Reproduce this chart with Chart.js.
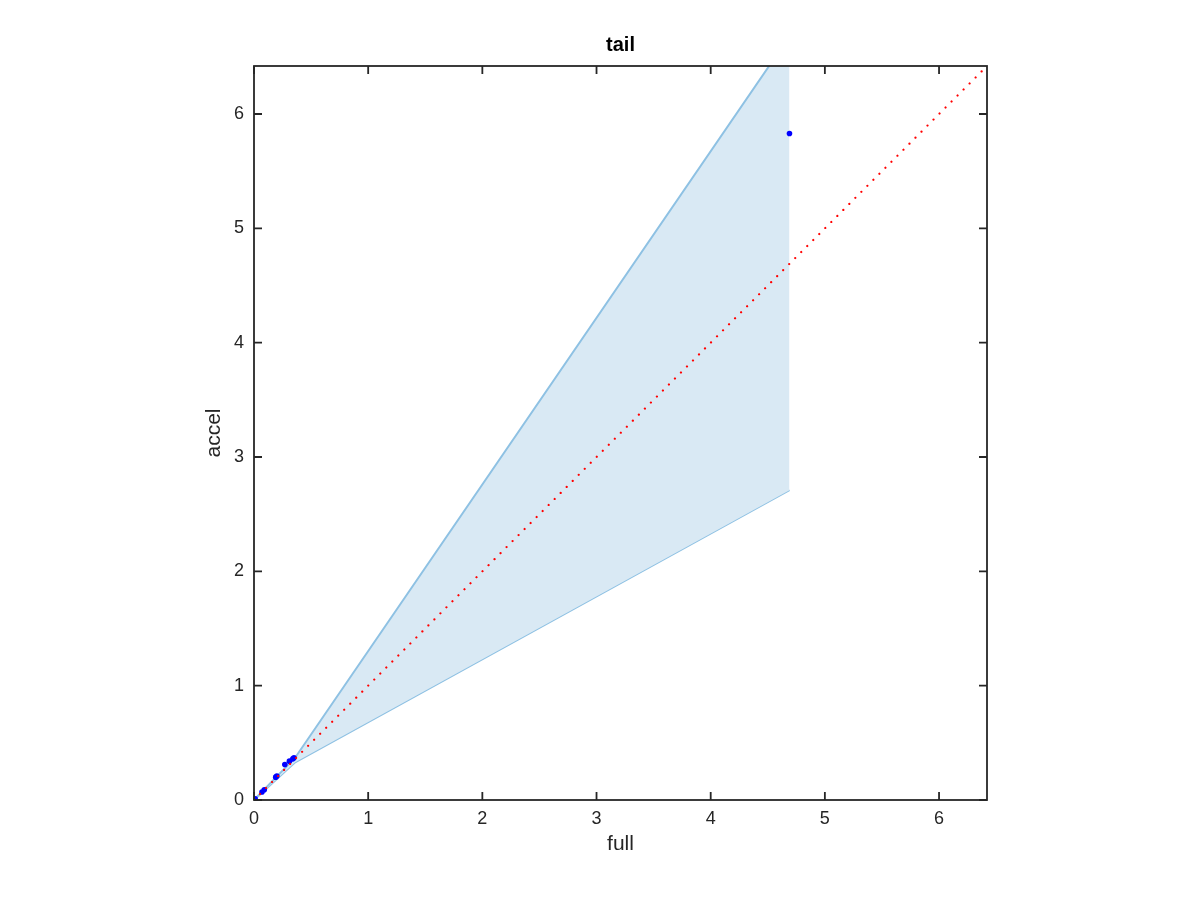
<!DOCTYPE html>
<html>
<head>
<meta charset="utf-8">
<script src="https://cdn.jsdelivr.net/npm/chart.js@4.4.0/dist/chart.umd.min.js"></script>
<style>
  body { margin: 0; background: #fff; }
  #wrap { width: 1200px; height: 900px; }
</style>
</head>
<body>
<div id="wrap"><canvas id="grafico" width="1200" height="900"></canvas></div>
<script>
// valores
var tickVals = [0, 1, 2, 3, 4, 5, 6];
var axisMax = 6.42;

var fullVals  = [0, 0.01, 0.07, 0.09, 0.19, 0.20, 0.27, 0.31, 0.34, 0.35, 4.69];
var accelVals = [0, 0.01, 0.07, 0.09, 0.20, 0.21, 0.31, 0.34, 0.36, 0.37, 5.83];

var bandX     = [0, 0.36, 4.69];
var bandUpper = [0, 0.37, 6.68];
var bandLower = [0, 0.33, 2.71];

var refX = [0, 6.42];
var refY = [0, 6.42];

var corTexto = '#262626';
var fonte = '"Liberation Sans", Arial, sans-serif';

function pares(xs, ys) {
    return xs.map(function (x, i) { return { x: x, y: ys[i] }; });
}

// moldura com ticks para dentro nos quatro lados + textos
var moldura = {
    id: 'moldura',
    afterDraw: function (chart) {
        var ctx = chart.ctx;
        var a = chart.chartArea;
        var sx = chart.scales.x, sy = chart.scales.y;
        ctx.save();
        ctx.strokeStyle = corTexto;
        ctx.lineWidth = 1.8;
        ctx.strokeRect(a.left, a.top, a.right - a.left, a.bottom - a.top);
        var t = 8;
        ctx.beginPath();
        tickVals.forEach(function (v) {
            var px = sx.getPixelForValue(v);
            ctx.moveTo(px, a.bottom); ctx.lineTo(px, a.bottom - t);
            ctx.moveTo(px, a.top); ctx.lineTo(px, a.top + t);
            var py = sy.getPixelForValue(v);
            ctx.moveTo(a.left, py); ctx.lineTo(a.left + t, py);
            ctx.moveTo(a.right, py); ctx.lineTo(a.right - t, py);
        });
        ctx.stroke();

        var cx = (a.left + a.right) / 2;
        ctx.fillStyle = '#000';
        ctx.textAlign = 'center';
        ctx.textBaseline = 'middle';
        ctx.font = 'bold 20px ' + fonte;
        ctx.fillText('tail', cx, 45);

        ctx.fillStyle = corTexto;
        ctx.font = '21px ' + fonte;
        ctx.fillText('full', cx, 844);

        ctx.translate(214, (a.top + a.bottom) / 2);
        ctx.rotate(-Math.PI / 2);
        ctx.fillText('accel', 0, 0);
        ctx.restore();
    }
};

var ctx = document.getElementById('grafico').getContext('2d');

var grafico = new Chart(ctx, {
    type: 'scatter',
    data: {
        datasets: [
            {
                label: 'y = x',
                data: pares(refX, refY),
                showLine: true,
                borderColor: 'rgb(255,0,0)',
                borderWidth: 2.2,
                borderDash: [0.01, 8.5],
                borderCapStyle: 'round',
                pointRadius: 0,
                fill: false,
                order: 0
            },
            {
                label: 'pontos',
                data: pares(fullVals, accelVals),
                showLine: false,
                pointRadius: 2.8,
                pointBackgroundColor: 'rgb(0,0,255)',
                pointBorderColor: 'rgb(0,0,255)',
                pointBorderWidth: 0,
                order: 1
            },
            {
                label: 'superior',
                data: pares(bandX, bandUpper),
                showLine: true,
                borderColor: 'rgb(142,193,227)',
                borderWidth: 2,
                pointRadius: 0,
                backgroundColor: 'rgb(217,233,244)',
                fill: '+1',
                order: 2
            },
            {
                label: 'inferior',
                data: pares(bandX, bandLower),
                showLine: true,
                borderColor: 'rgb(142,193,227)',
                borderWidth: 2,
                pointRadius: 0,
                fill: false,
                order: 3
            }
        ]
    },
    options: {
        responsive: false,
        animation: false,
        layout: { padding: { left: 0, top: 66, right: 213, bottom: 0 } },
        plugins: {
            legend: { display: false },
            title: { display: false },
            tooltip: { enabled: false }
        },
        scales: {
            x: {
                type: 'linear',
                min: 0,
                max: axisMax,
                grid: { display: false, drawTicks: false },
                border: { display: false },
                afterFit: function (s) { s.height = 100; },
                afterBuildTicks: function (s) {
                    s.ticks = tickVals.map(function (v) { return { value: v }; });
                },
                ticks: {
                    color: corTexto,
                    font: { family: fonte, size: 18 },
                    padding: 8,
                    maxRotation: 0
                }
            },
            y: {
                type: 'linear',
                min: 0,
                max: axisMax,
                grid: { display: false, drawTicks: false },
                border: { display: false },
                afterFit: function (s) { s.width = 254; },
                afterBuildTicks: function (s) {
                    s.ticks = tickVals.map(function (v) { return { value: v }; });
                },
                ticks: {
                    color: corTexto,
                    font: { family: fonte, size: 18 },
                    padding: 10
                }
            }
        }
    },
    plugins: [moldura]
});
</script>
</body>
</html>
